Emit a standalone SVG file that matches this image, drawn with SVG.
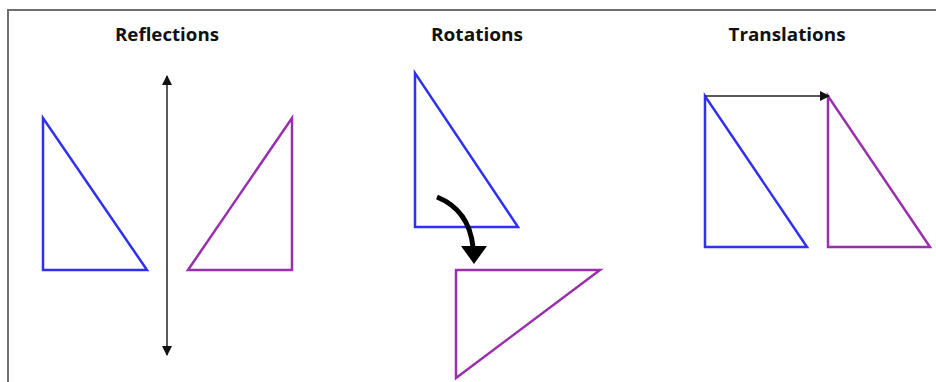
<svg xmlns="http://www.w3.org/2000/svg" width="936" height="382" viewBox="0 0 936 382">
<defs>
<style>
.t{font-family:"Open Sans","Liberation Sans",sans-serif;font-weight:bold;font-size:17px;fill:#111;text-anchor:middle}
.b{fill:none;stroke:#3030f0;stroke-width:2.5;stroke-linejoin:miter}
.p{fill:none;stroke:#9a2fae;stroke-width:2.5;stroke-linejoin:miter}
.c{fill:none;stroke:#222;stroke-width:1.5}
</style>
<marker id="ah" viewBox="0 0 10 10" refX="9" refY="5" markerWidth="10" markerHeight="10" markerUnits="userSpaceOnUse" orient="auto-start-reverse">
<path d="M0,0 L10,5 L0,10 z" fill="#111"/>
</marker>
</defs>
<rect width="936" height="382" fill="#fff"/>
<path d="M8,382 V10 H936" fill="none" stroke="#6e6e6e" stroke-width="2"/>
<text class="t" x="167" y="41" textLength="104" lengthAdjust="spacingAndGlyphs">Reflections</text>
<text class="t" x="477" y="41" textLength="92" lengthAdjust="spacingAndGlyphs">Rotations</text>
<text class="t" x="787" y="41" textLength="117" lengthAdjust="spacingAndGlyphs">Translations</text>
<g id="reflect-blue"><polygon class="b" points="43,118 43,270 147,270"/></g>
<g id="reflect-purple"><polygon class="p" points="292,118 292,270 188,270"/></g>
<g id="rotate-blue"><polygon class="b" points="415,73 415,227 518,227"/></g>
<g id="rotate-purple"><polygon class="p" points="456,270 600,270 456,378"/></g>
<g id="translate-blue"><polygon class="b" points="705,96 705,247 807,247"/></g>
<g id="translate-purple"><polygon class="p" points="828,96 828,247 930,247"/></g>
<g id="connectors">
<line class="c" x1="167" y1="76" x2="167" y2="355" marker-start="url(#ah)" marker-end="url(#ah)"/>
<line class="c" x1="705" y1="96" x2="829" y2="96" marker-end="url(#ah)"/>
<path d="M437,197 Q469,210 473,247" fill="none" stroke="#000" stroke-width="5"/>
<polygon points="461,246 487,246 474,264" fill="#000"/>
</g>
</svg>
